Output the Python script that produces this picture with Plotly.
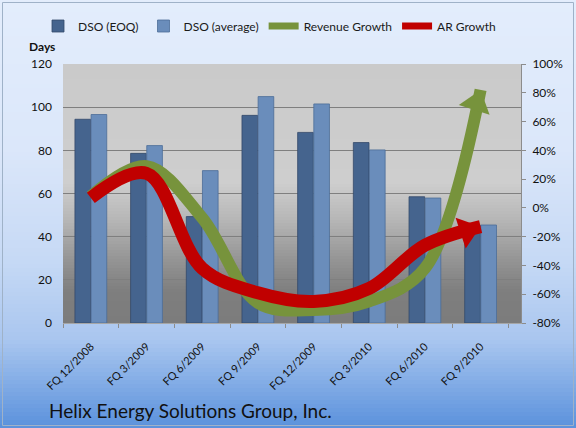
import math
import plotly.graph_objects as go

# ---------------- data ----------------
categories = ["FQ 12/2008", "FQ 3/2009", "FQ 6/2009", "FQ 9/2009",
              "FQ 12/2009", "FQ 3/2010", "FQ 6/2010", "FQ 9/2010"]
dso_eoq = [94.4, 78.6, 49.3, 96.2, 88.3, 83.6, 58.5, 45.3]
dso_avg = [96.6, 82.2, 70.6, 104.9, 101.5, 80.2, 57.9, 45.4]
revenue_growth = [8, 29, -7, -66, -71, -65, -42, 82]
ar_growth = [7, 24, -42, -59, -65, -56, -26, -13]
left_ticks = [0, 20, 40, 60, 80, 100, 120]
right_ticks = [-80, -60, -40, -20, 0, 20, 40, 60, 80, 100]
right_tick_labels = [f"{v}%" for v in right_ticks]

FONT = "Lato"
W, H = 576, 428
ML, MR, MT, MB = 63, 55, 64, 105
PW, PH = W - ML - MR, H - MT - MB
Y2_RANGE = [-80, 100]


def px2paper(x=None, y=None):
    if x is not None:
        return (x - ML) / PW
    return (H - MB - y) / PH


def hex2rgb(h):
    h = h.lstrip("#")
    return tuple(int(h[i:i + 2], 16) for i in (0, 2, 4))


def interp(stops, t):
    for (t0, c0), (t1, c1) in zip(stops, stops[1:]):
        if t0 <= t <= t1:
            f = 0 if t1 == t0 else (t - t0) / (t1 - t0)
            a, b = hex2rgb(c0), hex2rgb(c1)
            return "rgb(%d,%d,%d)" % tuple(round(a[i] + (b[i] - a[i]) * f) for i in range(3))
    return stops[-1][1]


def end_angle(series):
    # direction of the last segment in screen space (degrees clockwise from up)
    dx = PW / len(categories)
    dy = (series[-1] - series[-2]) * PH / (Y2_RANGE[1] - Y2_RANGE[0])
    return math.degrees(math.atan2(dx, dy))


shapes = []
# figure background gradient (pixel y from top)
fig_stops = [(0, "#e3edfc"), (150, "#dbe7fa"), (260, "#c6d9f5"),
             (340, "#a9c6ef"), (428, "#5a91dc")]
step = 4
for y0 in range(0, H, step):
    y1 = min(H, y0 + step)
    shapes.append(dict(type="rect", xref="paper", yref="paper",
                       x0=px2paper(x=0), x1=px2paper(x=W),
                       y0=px2paper(y=y1), y1=px2paper(y=y0),
                       fillcolor=interp(fig_stops, (y0 + y1) / 2),
                       line_width=0, layer="below"))
# plot-area gradient
plot_stops = [(64, "#cacaca"), (183, "#cecece"), (220, "#b6b6b6"),
              (260, "#949494"), (292, "#7e7e7e"), (323, "#7c7c7c")]
for y0 in range(MT, H - MB, 3):
    y1 = min(H - MB, y0 + 3)
    shapes.append(dict(type="rect", xref="paper", yref="paper",
                       x0=0, x1=1, y0=px2paper(y=y1), y1=px2paper(y=y0),
                       fillcolor=interp(plot_stops, (y0 + y1) / 2),
                       line_width=0, layer="below"))
# figure border
shapes.append(dict(type="rect", xref="paper", yref="paper",
                   x0=px2paper(x=2.5), x1=px2paper(x=W - 2.5),
                   y0=px2paper(y=H - 2.5), y1=px2paper(y=2.5),
                   line=dict(color="#9fb2c8", width=1), fillcolor="rgba(0,0,0,0)",
                   layer="above"))

fig = go.Figure()
fig.add_trace(go.Bar(x=categories, y=dso_eoq, name="DSO (EOQ)",
                     marker=dict(color="#45648e", line=dict(color="#34496a", width=0.8))))
fig.add_trace(go.Bar(x=categories, y=dso_avg, name="DSO (average)",
                     marker=dict(color="#6a8dbb", line=dict(color="#4d6d98", width=0.8))))

for series, color, width in [(revenue_growth, "#77933c", 12), (ar_growth, "#c00000", 13)]:
    fig.add_trace(go.Scatter(x=categories, y=series, yaxis="y2", mode="lines",
                             line=dict(color=color, width=width, shape="spline",
                                       smoothing=1.0, backoff=16),
                             showlegend=False, hoverinfo="skip"))
    fig.add_trace(go.Scatter(x=categories[-1:], y=series[-1:], yaxis="y2", mode="markers",
                             marker=dict(symbol="triangle-up", size=28, standoff=14,
                                         angle=end_angle(series), color=color,
                                         line=dict(width=0)),
                             showlegend=False, cliponaxis=False, hoverinfo="skip"))

# legend entries for the growth series
fig.add_trace(go.Scatter(x=[None], y=[None], yaxis="y2", mode="lines", name="Revenue Growth",
                         line=dict(color="#77933c", width=7)))
fig.add_trace(go.Scatter(x=[None], y=[None], yaxis="y2", mode="lines", name="AR Growth",
                         line=dict(color="#c00000", width=7)))

fig.update_layout(
    width=W, height=H,
    margin=dict(l=ML, r=MR, t=MT, b=MB, pad=0),
    paper_bgcolor="#e3edfc", plot_bgcolor="rgba(0,0,0,0)",
    font=dict(family=FONT, size=12, color="#111111"),
    barmode="group", bargap=0.42, bargroupgap=0.03,
    shapes=shapes,
    legend=dict(orientation="h", x=px2paper(x=38), xanchor="left",
                y=px2paper(y=26), yanchor="middle",
                bgcolor="rgba(0,0,0,0)", font=dict(size=12, color="#1a1a1a"),
                traceorder="normal", itemwidth=30),
    xaxis=dict(type="category", tickangle=-45, tickfont=dict(size=11, color="#111"),
               showline=True, linecolor="#a6a6a6", linewidth=1,
               ticks="outside", tickson="boundaries", ticklen=4, tickcolor="#8c8c8c",
               ticklabelstandoff=12, showgrid=False, automargin=False),
    yaxis=dict(range=[0, 120], tickvals=left_ticks, tickfont=dict(size=12, color="#111"),
               showgrid=True, gridcolor="#7f7f7f", gridwidth=1, ticklabelstandoff=10,
               showline=False, zeroline=False, ticks="", automargin=False),
    yaxis2=dict(range=Y2_RANGE, overlaying="y", side="right",
                tickvals=right_ticks, ticktext=right_tick_labels,
                tickfont=dict(size=12, color="#111"), ticklabelstandoff=4,
                showgrid=False, zeroline=False, showline=True, linecolor="#8c8c8c",
                ticks="outside", ticklen=4, tickcolor="#8c8c8c", automargin=False),
    annotations=[
        dict(text="<b>Days</b>", xref="paper", yref="paper",
             x=px2paper(x=27), y=px2paper(y=47), xanchor="left", yanchor="middle",
             showarrow=False, font=dict(size=12, color="#111")),
        dict(text="Helix Energy Solutions Group, Inc.", xref="paper", yref="paper",
             x=px2paper(x=47), y=px2paper(y=410), xanchor="left", yanchor="middle",
             showarrow=False, font=dict(size=19, color="#111")),
    ],
)

fig.write_html("out.html")
